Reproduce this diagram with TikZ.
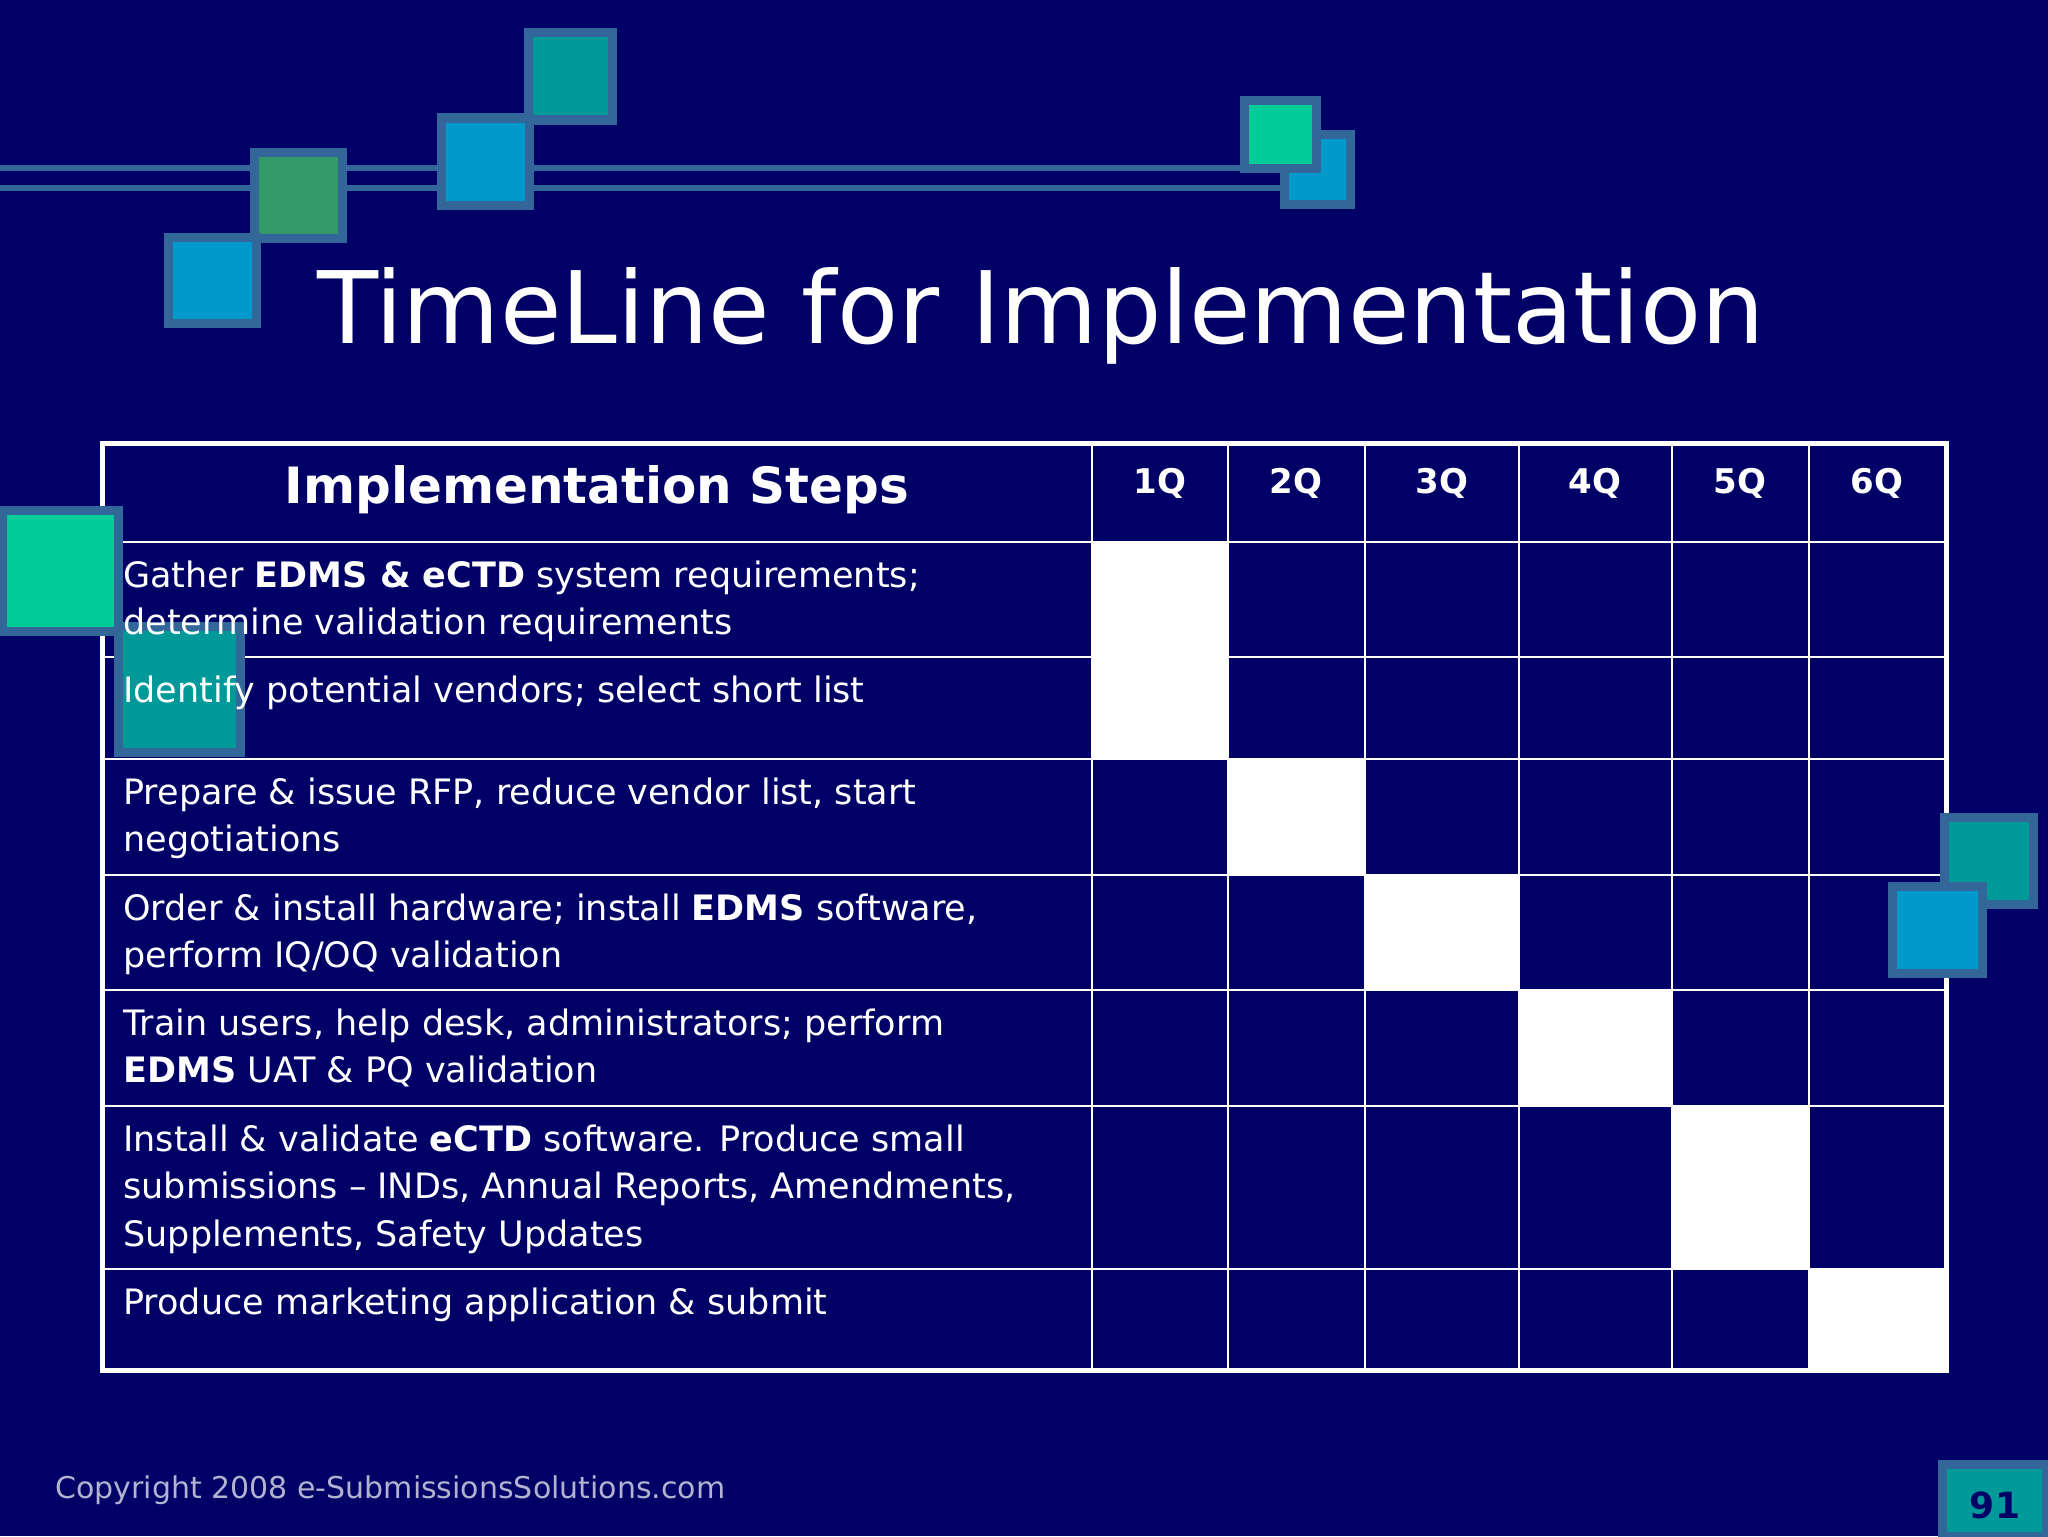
\documentclass[tikz,border=0pt]{standalone}
\usepackage{fontspec}
\setmainfont{DejaVu Sans}
\definecolor{navy}{HTML}{000066}
\definecolor{edge}{HTML}{336699}
\definecolor{teal}{HTML}{009999}
\definecolor{cyan}{HTML}{0099CC}
\definecolor{grn}{HTML}{339966}
\definecolor{mint}{HTML}{00CC99}
\begin{document}
\begin{tikzpicture}[x=0.5pt,y=-0.5pt,
  sq/.style={draw=edge,line width=4.5pt},
  cell/.style={draw=white,line width=1.2pt},
  txt/.style={anchor=north west,align=left,text=white,font=\fontsize{17.5}{23.8}\selectfont,inner sep=0pt},
  hd/.style={text=white,font=\bfseries\fontsize{17}{20}\selectfont}]
\fill[navy] (0,0) rectangle (2048,1536);
\useasboundingbox (0,0) rectangle (2048,1536);
% top bar
\draw[edge,line width=3pt] (0,168)--(1290,168);
\draw[edge,line width=3pt] (0,188)--(1290,188);
\fill[sq,fill=teal] (528,33) rectangle (612,120);
\fill[sq,fill=cyan] (441,118) rectangle (529,205);
\fill[sq,fill=grn] (254,152) rectangle (342,238);
\fill[sq,fill=cyan] (168,237) rectangle (256,323);
\fill[sq,fill=cyan] (1284,134) rectangle (1350,204);
\fill[sq,fill=mint] (1244,101) rectangle (1316,168);
\node[text=white,font=\fontsize{50}{55}\selectfont,anchor=base west] (title) at (310,343) {TimeLine for Implementation};
% table
\fill[white] (1092,542) rectangle (1228,759);
\fill[white] (1228,759) rectangle (1365,875);
\fill[white] (1365,875) rectangle (1519,990);
\fill[white] (1519,990) rectangle (1672,1106);
\fill[white] (1672,1106) rectangle (1809,1269);
\fill[white] (1809,1269) rectangle (1946,1370);
\foreach \x in {1092,1228,1365,1519,1672,1809} \draw[cell] (\x,443)--(\x,1370);
\foreach \y in {542,657,759,875,990,1106,1269} \draw[cell] (102,\y)--(1946,\y);
\draw[white,line width=2.5pt] (102,443) rectangle (1946,1370);
% side squares
\fill[sq,fill=mint] (2,510) rectangle (118,631);
\fill[sq,fill=teal] (118,626) rectangle (240,752);
\fill[sq,fill=teal] (1944,817) rectangle (2033,904);
\fill[sq,fill=cyan] (1892,886) rectangle (1982,973);
% header
\node[hd,font=\bfseries\fontsize{25}{28}\selectfont] (h0) at (597,490) {Implementation Steps};
\node[hd] (h1) at (1160,483) {1Q};
\node[hd] (h2) at (1296,483) {2Q};
\node[hd] (h3) at (1442,483) {3Q};
\node[hd] (h4) at (1595,483) {4Q};
\node[hd] (h5) at (1740,483) {5Q};
\node[hd] (h6) at (1877,483) {6Q};
\node[txt] (r1) at (123,560) {Gather \textbf{EDMS \& eCTD} system requirements;\\determine validation requirements};
\node[txt] (r2) at (123,675) {Identify potential vendors; select short list};
\node[txt] (r3) at (123,777) {Prepare \& issue RFP, reduce vendor list, start\\negotiations};
\node[txt] (r4) at (123,893) {Order \& install hardware; install \textbf{EDMS} software,\\perform IQ/OQ validation};
\node[txt] (r5) at (123,1008) {Train users, help desk, administrators; perform\\\textbf{EDMS} UAT \& PQ validation};
\node[txt] (r6) at (123,1124) {Install \& validate \textbf{eCTD} software. Produce small\\submissions -- INDs, Annual Reports, Amendments,\\Supplements, Safety Updates};
\node[txt] (r7) at (123,1287) {Produce marketing application \& submit};
% footer
\node[anchor=west,text=white!70!navy,font=\fontsize{15}{16}\selectfont,inner sep=0pt] (copy) at (55,1490) {Copyright 2008 e-SubmissionsSolutions.com};
\fill[sq,fill=teal] (1942,1464) rectangle (2046,1536);
\node[text=navy,font=\bfseries\fontsize{18}{20}\selectfont] (pg) at (1995,1505) {91};
\end{tikzpicture}
\end{document}
